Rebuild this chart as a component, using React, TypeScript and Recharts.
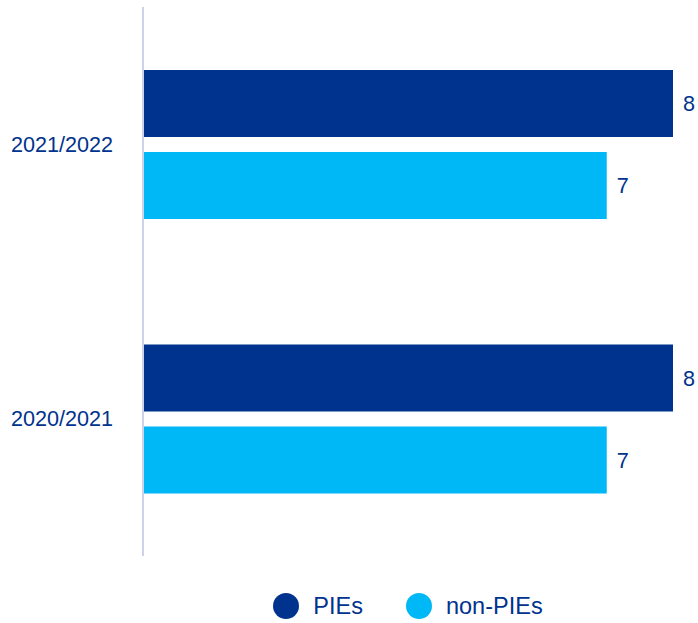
import { Bar, BarChart, LabelList, Legend, XAxis, YAxis } from "recharts";

const years = ["2021/2022", "2020/2021"];
const piesValues = [8, 8];
const nonPiesValues = [7, 7];

const DARK = "#00338d";
const LIGHT = "#00b8f5";
const FONT = "'Liberation Sans', Arial, sans-serif";

const data = years.map((year, i) => ({
  year,
  pies: piesValues[i],
  nonPies: nonPiesValues[i],
}));

const legendItems = [
  { label: "PIEs", color: DARK },
  { label: "non-PIEs", color: LIGHT },
];

function ChartLegend() {
  return (
    <div
      style={{
        height: 67,
        boxSizing: "border-box",
        paddingTop: 37,
        display: "flex",
        justifyContent: "center",
        gap: 43,
        fontFamily: FONT,
        fontSize: 23.5,
        color: DARK,
      }}
    >
      {legendItems.map((item) => (
        <div
          key={item.label}
          style={{ display: "flex", alignItems: "center", height: 26 }}
        >
          <span
            style={{
              width: 26,
              height: 26,
              borderRadius: "50%",
              background: item.color,
              marginRight: 14,
              display: "inline-block",
            }}
          />
          <span style={{ lineHeight: "26px" }}>{item.label}</span>
        </div>
      ))}
    </div>
  );
}

export default function App() {
  return (
    <div style={{ width: 698, height: 623 }}>
      <style>{"body{margin:0}"}</style>
      <BarChart
        width={698}
        height={623}
        data={data}
        layout="vertical"
        barSize={67}
        barGap={15}
        margin={{ top: 7, right: 25, bottom: 0, left: 0 }}
        style={{ fontFamily: FONT }}
      >
        <XAxis type="number" domain={[0, 8]} hide />
        <YAxis
          type="category"
          dataKey="year"
          width={143}
          axisLine={{ stroke: "#cdd3ea", strokeWidth: 2 }}
          tickLine={false}
          tickSize={6}
          tickMargin={24}
          tick={{ fill: DARK, fontSize: 21.6 }}
        />
        <Legend
          verticalAlign="bottom"
          content={<ChartLegend />}
          wrapperStyle={{ left: 143, width: 530 }}
        />
        <Bar dataKey="pies" name="PIEs" fill={DARK} isAnimationActive={false}>
          <LabelList
            dataKey="pies"
            position="right"
            offset={10}
            fill={DARK}
            fontSize={21.6}
          />
        </Bar>
        <Bar
          dataKey="nonPies"
          name="non-PIEs"
          fill={LIGHT}
          isAnimationActive={false}
        >
          <LabelList
            dataKey="nonPies"
            position="right"
            offset={10}
            fill={DARK}
            fontSize={21.6}
          />
        </Bar>
      </BarChart>
    </div>
  );
}
